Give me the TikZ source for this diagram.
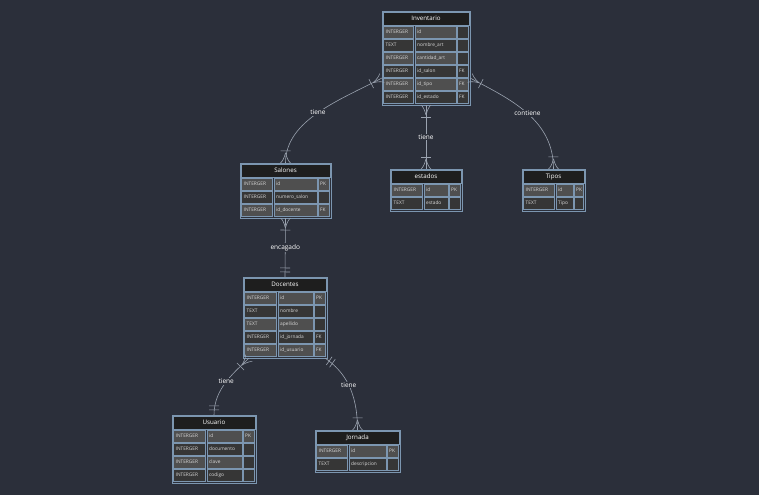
\documentclass[tikz,border=0pt]{standalone}
\usepackage{fontspec}
\setmainfont{Open Sans}
\usetikzlibrary{decorations.markings}

\definecolor{canvas}{HTML}{2B2F3A}
\definecolor{titlebg}{HTML}{1E1E1E}
\definecolor{celllight}{HTML}{4F4F4F}
\definecolor{celldark}{HTML}{363636}
\definecolor{cellline}{HTML}{7C96B0}
\definecolor{celltext}{HTML}{D8D8D8}
\definecolor{wire}{HTML}{9BA3B0}

\newcommand{\cellfont}{\fontsize{4.8}{5}\selectfont}
\newcommand{\headfont}{\fontsize{6.2}{7}\selectfont}
\newcommand{\tagfont}{\fontsize{6.5}{7}\selectfont}

\tikzset{
  tabframe/.style={draw=cellline, fill=canvas, line width=0.8pt, inner sep=0pt, outer sep=0pt, anchor=north west},
  tabhead/.style={fill=titlebg, draw=cellline, line width=0.4pt, inner sep=0pt, outer sep=0pt, anchor=north west, text=white, font=\headfont},
  cellbox/.style={draw=cellline, line width=0.5pt, inner sep=0pt, outer sep=0pt, anchor=north west, minimum height=12pt},
  celltxt/.style={anchor=west, inner sep=0pt, text=celltext, font=\cellfont},
  rel/.style={draw=wire, line width=0.6pt},
  tick/.style={draw=wire, line width=0.6pt},
  tag/.style={fill=canvas, text=white, font=\tagfont, inner sep=1pt},
  % crow's foot with a bar, at the start / end of a connector
  crowstart/.style={postaction={decorate, decoration={markings, mark=at position 0.001 with {
      \draw[tick] (10pt,0pt) .. controls (4pt,1.5pt) and (1pt,3.5pt) .. (0pt,5pt);
      \draw[tick] (10pt,0pt) .. controls (4pt,-1.5pt) and (1pt,-3.5pt) .. (0pt,-5pt);
      \draw[tick] (12pt,-5pt) -- (12pt,5pt);}}}},
  crowend/.style={postaction={decorate, decoration={markings, mark=at position 0.999 with {
      \draw[tick] (-10pt,0pt) .. controls (-4pt,1.5pt) and (-1pt,3.5pt) .. (0pt,5pt);
      \draw[tick] (-10pt,0pt) .. controls (-4pt,-1.5pt) and (-1pt,-3.5pt) .. (0pt,-5pt);
      \draw[tick] (-12pt,-5pt) -- (-12pt,5pt);}}}},
  % two bars: exactly one
  barsstart/.style={postaction={decorate, decoration={markings, mark=at position 0.001 with {
      \draw[tick] (5pt,-5pt) -- (5pt,5pt);
      \draw[tick] (9pt,-5pt) -- (9pt,5pt);}}}},
  barsend/.style={postaction={decorate, decoration={markings, mark=at position 0.999 with {
      \draw[tick] (-5pt,-5pt) -- (-5pt,5pt);
      \draw[tick] (-9pt,-5pt) -- (-9pt,5pt);}}}},
}

\def\nokey{-}
% #1 name, #2 left, #3 top, #4 rows, #5-#7 column widths, #8 title, #9 rows type/field/key
\newcommand{\erdtable}[9]{%
  \pgfmathsetmacro{\tabW}{#5+#6+#7+6}%
  \pgfmathsetmacro{\tabH}{#4*13+16}%
  \pgfmathsetmacro{\headW}{\tabW-2}%
  \node[tabframe, minimum width=\tabW pt, minimum height=\tabH pt] (#1) at (#2,#3) {};
  \node[tabhead, minimum width=\headW pt, minimum height=13pt] (#1-title) at (#2+1,#3+1) {#8};
  \foreach \ty/\fld/\ky [count=\rowno] in {#9} {
    \pgfmathsetmacro{\rowy}{#3+15+(\rowno-1)*13}
    \ifodd\rowno\relax\def\shade{celllight}\else\def\shade{celldark}\fi
    \ifx\ky\nokey\def\keyshade{celldark}\else\let\keyshade\shade\fi
    \node[cellbox, fill=\shade, minimum width=#5pt] (#1-\rowno-a) at (#2+1.5,\rowy) {};
    \node[cellbox, fill=\shade, minimum width=#6pt] (#1-\rowno-b) at (#2+3+#5,\rowy) {};
    \node[cellbox, fill=\keyshade, minimum width=#7pt] (#1-\rowno-c) at (#2+4.5+#5+#6,\rowy) {};
    \node[celltxt] (#1-\rowno-at) at ([xshift=2pt]#1-\rowno-a.west) {\ty};
    \node[celltxt] (#1-\rowno-bt) at ([xshift=2pt]#1-\rowno-b.west) {\fld};
    \ifx\ky\nokey\else
      \node[celltxt] (#1-\rowno-ct) at ([xshift=1.5pt]#1-\rowno-c.west) {\ky};
    \fi
  }%
}

\begin{document}
\begin{tikzpicture}[x=1pt, y=-1pt]
  \fill[canvas] (0,0) rectangle (759,495);

  \erdtable{inv}{382}{11}{6}{30}{41}{11}{Inventario}{INTERGER/id/-,TEXT/nombre\_art/-,INTERGER/cantidad\_art/-,INTERGER/id\_salon/FK,INTERGER/id\_tipo/FK,INTERGER/id\_estado/FK}
  \erdtable{sal}{240}{163}{3}{31}{43}{11}{Salones}{INTERGER/id/PK,INTERGER/numero\_salon/-,INTERGER/id\_docente/FK}
  \erdtable{est}{390}{169}{2}{31}{24}{11}{estados}{INTERGER/id/PK,TEXT/estado/-}
  \erdtable{tip}{522}{169}{2}{31}{17}{9}{Tipos}{INTERGER/id/PK,TEXT/Tipo/-}
  \erdtable{doc}{243}{277}{5}{32}{35}{11}{Docentes}{INTERGER/id/PK,TEXT/nombre/-,TEXT/apellido/-,INTERGER/id\_jornada/FK,INTERGER/id\_usuario/FK}
  \erdtable{usu}{172}{415}{4}{32}{35}{11}{Usuario}{INTERGER/id/PK,INTERGER/documento/-,INTERGER/clave/-,INTERGER/codigo/-}
  \erdtable{jor}{315}{430}{2}{31}{37}{11}{Jornada}{INTERGER/id/PK,TEXT/descripcion/-}

  % relationships
  \draw[rel, crowstart, crowend] (inv.west |- inv-5-a.north) .. controls (340,100) and (285.5,120) .. (sal.north)
    node[tag, pos=0.5] (t-inv-sal) {tiene};
  \draw[rel, crowstart, crowend] (inv.south) -- (est.north)
    node[tag, midway] (t-inv-est) {tiene};
  \draw[rel, crowstart, crowend] (inv.east |- inv-5-a.north) .. controls (512,100) and (553.5,120) .. (tip.north)
    node[tag, pos=0.5] (t-inv-tip) {contiene};
  \draw[rel, crowstart, barsend] (sal.south) -- (doc.north)
    node[tag, midway] (t-sal-doc) {encagado};
  \draw[rel, crowstart, barsend] ([xshift=6pt]doc.south west) .. controls (235,372) and (214,388) .. (usu.north)
    node[tag, pos=0.5] (t-doc-usu) {tiene};
  \draw[rel, barsstart, crowend] ([xshift=-2pt]doc.south east) .. controls (345,372) and (357.5,392) .. (jor.north)
    node[tag, pos=0.5] (t-doc-jor) {tiene};
\end{tikzpicture}
\end{document}
